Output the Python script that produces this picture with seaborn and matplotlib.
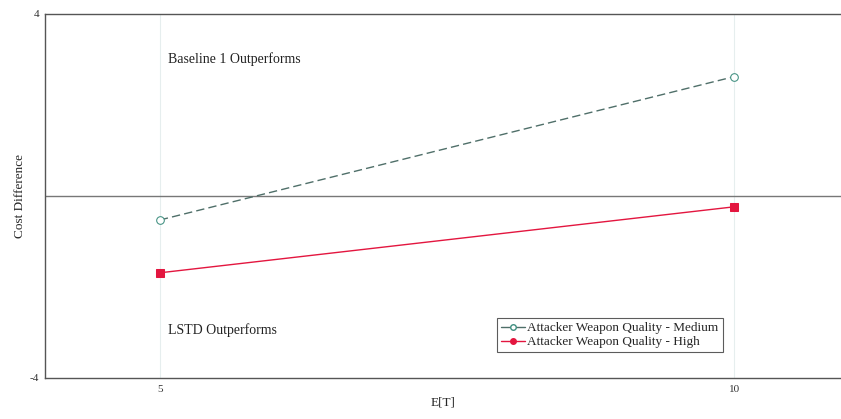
import matplotlib
matplotlib.use("Agg")
import matplotlib.pyplot as plt
import seaborn as sns
import pandas as pd

# Expected time E[T] values and the cost differences for each weapon quality
e_t = [5, 10]
medium_cost = [-0.53, 2.62]
high_cost = [-1.69, -0.24]
series_names = ["Attacker Weapon Quality - Medium", "Attacker Weapon Quality - High"]

df = pd.DataFrame({
    "E[T]": e_t * 2,
    "Cost Difference": medium_cost + high_cost,
    "series": [series_names[0]] * len(e_t) + [series_names[1]] * len(e_t),
})

sns.set_theme(style="white")
plt.rcParams["font.family"] = ["Liberation Serif", "DejaVu Serif"]

fig = plt.figure(figsize=(8.41, 4.19), dpi=100)
ax = fig.add_axes([0.0535, 0.098, 0.9465, 0.869])

medium_line = "#4f6f69"
medium_edge = "#3f8f80"
high_color = "#e3163f"
palette = {series_names[0]: medium_line, series_names[1]: high_color}
sns.lineplot(
    data=df, x="E[T]", y="Cost Difference", hue="series", style="series",
    palette=palette, dashes={series_names[0]: (6, 3), series_names[1]: ""},
    markers={series_names[0]: "o", series_names[1]: "s"},
    linewidth=1.0, markersize=5.5, ax=ax, legend=False,
)

# open circle for medium, filled square for high
lines = ax.get_lines()
lines[0].set_markerfacecolor("white")
lines[0].set_markeredgecolor(medium_edge)
lines[1].set_markerfacecolor(high_color)
lines[1].set_markeredgecolor(high_color)

ax.axhline(0, color="#777777", linewidth=1.0, zorder=1)
for xv in e_t:
    ax.axvline(xv, color="#e6eeee", linewidth=0.8, zorder=0)

ax.set_xlim(4, 10.93)
ax.set_ylim(-4, 4)
ax.set_xticks(e_t)
ax.set_xticklabels([str(v) for v in e_t])
ax.set_yticks([-4, 4])
ax.set_yticklabels(["-4", "4"])
ax.tick_params(axis="x", direction="in", length=4, width=0.8, colors="#333333", labelsize=8, pad=5)
ax.tick_params(axis="y", length=0, labelsize=8, colors="#333333", pad=4)

for side in ["left", "bottom", "top"]:
    ax.spines[side].set_color("#555555")
    ax.spines[side].set_linewidth(1.0)
ax.spines["right"].set_visible(False)

ax.set_xlabel("E[T]", fontsize=9.5, labelpad=2)
ax.set_ylabel("Cost Difference", fontsize=9.5, labelpad=3)

ax.text(5.07, 3.0, "Baseline 1 Outperforms", fontsize=10, va="center", ha="left", color="#222222")
ax.text(5.07, -2.95, "LSTD Outperforms", fontsize=10, va="center", ha="left", color="#222222")

handles = [
    plt.Line2D([], [], color=medium_line, linestyle="-", linewidth=1.0, marker="o",
               markersize=4, markerfacecolor="white", markeredgecolor=medium_edge),
    plt.Line2D([], [], color=high_color, linestyle="-", linewidth=1.0, marker="o",
               markersize=4, markerfacecolor=high_color, markeredgecolor=high_color),
]
leg = ax.legend(
    handles, series_names,
    loc="lower left", bbox_to_anchor=(0.568, 0.07), fontsize=9.5,
    frameon=True, fancybox=False, edgecolor="#333333", handlelength=1.8,
    handletextpad=0.2, borderpad=0.3, labelspacing=0.15, borderaxespad=0,
)
leg.get_frame().set_linewidth(0.8)

fig.savefig("out.png", dpi=100)
